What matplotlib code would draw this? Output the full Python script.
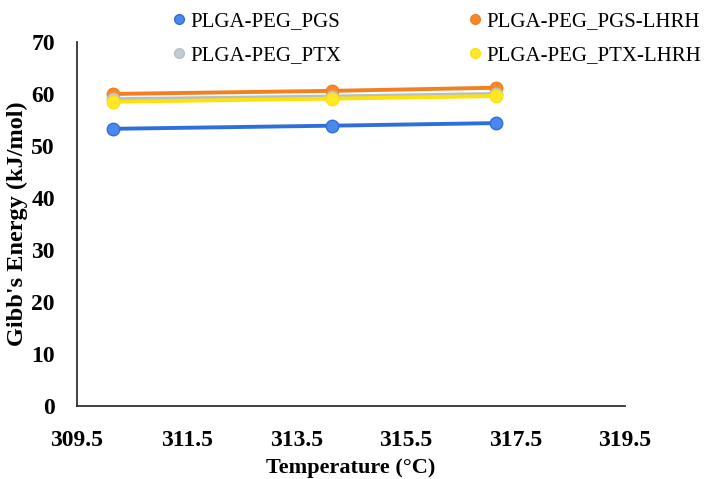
import matplotlib.pyplot as plt

# temperatures and Gibbs energy values
temp = [310.15, 314.15, 317.15]
pgs = [53.3, 53.9, 54.4]
pgs_lhrh = [60.0, 60.6, 61.2]
ptx = [59.0, 59.5, 60.0]
ptx_lhrh = [58.5, 59.1, 59.6]

labels = ['PLGA-PEG_PGS', 'PLGA-PEG_PGS-LHRH', 'PLGA-PEG_PTX', 'PLGA-PEG_PTX-LHRH']
xticks = [309.5, 311.5, 313.5, 315.5, 317.5, 319.5]
yticks = [0, 10, 20, 30, 40, 50, 60, 70]

plt.rcParams['font.family'] = ['Liberation Serif', 'DejaVu Serif']

fig = plt.figure(figsize=(7.08, 4.79), dpi=100)
ax = fig.add_axes([0.1088, 0.1524, 0.774, 0.76])

series = [
    (pgs, '#2f6fdc', '#4a88ec', labels[0]),
    (pgs_lhrh, '#f47f1e', '#f8892a', labels[1]),
    (ptx, '#b4c0c8', '#c3ccd3', labels[2]),
    (ptx_lhrh, '#ffe10a', '#ffe82a', labels[3]),
]
handles = []
for vals, lc, fc, lab in series:
    h, = ax.plot(temp, vals, color=lc, lw=2.8, marker='o', ms=9,
                 mfc=fc, mec=lc, mew=1, label=lab)
    handles.append(h)

ax.set_xlim(309.5, 319.5)
ax.set_ylim(0, 70)
ax.set_xticks(xticks)
ax.set_xticklabels([str(t) for t in xticks])
ax.set_yticks(yticks)
ax.tick_params(length=0, labelsize=17, pad=17)
ax.tick_params(axis='y', pad=16)
for t in ax.get_xticklabels() + ax.get_yticklabels():
    t.set_fontweight('bold')

for s in ['top', 'right']:
    ax.spines[s].set_visible(False)
for s in ['left', 'bottom']:
    ax.spines[s].set_color('#333333')
    ax.spines[s].set_linewidth(1.3)

ax.set_xlabel('Temperature (\u00b0C)', fontsize=16, fontweight='bold', labelpad=5)
ax.set_ylabel("Gibb's Energy (kJ/mol)", fontsize=17.5, fontweight='bold', labelpad=2)

# legend: row-major order in two columns
leg_handles = [plt.Line2D([], [], ls='', marker='o', ms=7, mfc=h.get_mfc(),
                          mec=h.get_mec(), mew=1) for h in handles]
order = [0, 2, 1, 3]
fig.legend([leg_handles[i] for i in order], [labels[i] for i in order],
           ncol=2, loc='upper left', bbox_to_anchor=(0.21, 1.015),
           frameon=False, fontsize=15, handletextpad=0.0, handlelength=1.1,
           columnspacing=5.85, labelspacing=0.7)

fig.savefig('out.png', dpi=100)
